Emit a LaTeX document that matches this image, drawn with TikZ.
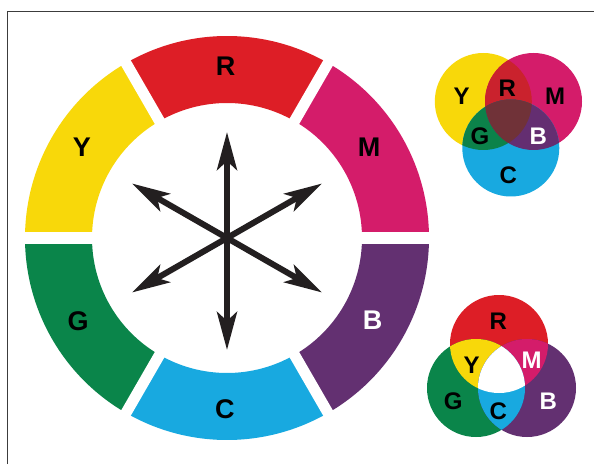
\documentclass[tikz,border=0pt]{standalone}
\usepackage{fontspec}
\setmainfont{Liberation Sans}
\usetikzlibrary{arrows.meta}
\definecolor{cR}{RGB}{221,30,38}
\definecolor{cY}{RGB}{248,216,10}
\definecolor{cM}{RGB}{212,28,106}
\definecolor{cG}{RGB}{10,133,74}
\definecolor{cB}{RGB}{99,48,113}
\definecolor{cC}{RGB}{24,169,224}
\definecolor{oR}{RGB}{202,34,45}
\definecolor{oG}{RGB}{12,130,74}
\definecolor{oB}{RGB}{100,46,113}
\definecolor{oK}{RGB}{112,50,56}
\definecolor{arrowc}{RGB}{35,31,32}
\definecolor{framec}{RGB}{60,60,60}
\begin{document}
\begin{tikzpicture}[x=1pt,y=1pt,
  lbl/.style={font=\fontsize{27}{27}\selectfont\bfseries, inner sep=0pt},
  slbl/.style={font=\fontsize{24}{24}\selectfont\bfseries, inner sep=0pt},
  arr/.style={line width=6pt, draw=arrowc,
    {Stealth[length=38pt,width=20pt,inset=9pt]}-{Stealth[length=38pt,width=20pt,inset=9pt]}},
  gapline/.style={draw=white, line width=11pt},
  framestyle/.style={draw=framec, line width=1pt}]
\useasboundingbox (0,0) rectangle (594,464);
\fill[white] (0,0) rectangle (594,464);
\draw[framestyle] (7,0) -- (7,452.3) -- (594,452.3);
% colour wheel
\begin{scope}[shift={(227,226)}]
  \foreach \a/\c in {90/cR,30/cM,-30/cB,-90/cC,-150/cG,150/cY} {
    \fill[\c] ({\a-30}:135) arc[start angle={\a-30}, end angle={\a+30}, radius=135]
      -- ({\a+30}:202) arc[start angle={\a+30}, end angle={\a-30}, radius=202] -- cycle;
  }
  \foreach \a in {0,60,...,300} \draw[gapline] (\a:128) -- (\a:209);
\end{scope}
\node[lbl] (wR) at (225.7,397.7) {R};
\node[lbl] (wY) at (82,317) {Y};
\node[lbl] (wM) at (369,316.7) {M};
\node[lbl] (wG) at (78,142.3) {G};
\node[lbl,text=white] (wB) at (372.5,143.7) {B};
\node[lbl] (wC) at (224.8,55.2) {C};
% arrows
\coordinate (aN) at (227,332);
\coordinate (aS) at (227,114);
\coordinate (aNW) at (132,280.5);
\coordinate (aSE) at (322,171.5);
\coordinate (aSW) at (132,171.5);
\coordinate (aNE) at (322,280.5);
\draw[arr] (aN) -- (aS);
\draw[arr] (aNW) -- (aSE);
\draw[arr] (aSW) -- (aNE);
% subtractive venn (top right)
\fill[cY] (483.3,362.5) circle[radius=48.5];
\fill[cM] (533.5,362.5) circle[radius=48.5];
\fill[cC] (510.8,316) circle[radius=48.5];
\begin{scope}
  \clip (483.3,362.5) circle[radius=48.5];
  \fill[oR] (533.5,362.5) circle[radius=48.5];
  \fill[oG] (510.8,316) circle[radius=48.5];
\end{scope}
\begin{scope}
  \clip (533.5,362.5) circle[radius=48.5];
  \fill[oB] (510.8,316) circle[radius=48.5];
\end{scope}
\begin{scope}
  \clip (483.3,362.5) circle[radius=48.5];
  \clip (533.5,362.5) circle[radius=48.5];
  \fill[oK] (510.8,316) circle[radius=48.5];
\end{scope}
\node[slbl] (sY) at (461.7,367.3) {Y};
\node[slbl] (sR) at (507.3,375.7) {R};
\node[slbl] (sM) at (555,367.3) {M};
\node[slbl] (sG) at (480,327.3) {G};
\node[slbl,text=white] (sB) at (538.3,327.3) {B};
\node[slbl] (sC) at (508.3,289) {C};
% additive venn (bottom right)
\fill[cR] (499,120) circle[radius=49];
\fill[cG] (476,76) circle[radius=49];
\fill[cB] (527,76) circle[radius=49];
\begin{scope}
  \clip (499,120) circle[radius=49];
  \fill[cY] (476,76) circle[radius=49];
  \fill[cM] (527,76) circle[radius=49];
\end{scope}
\begin{scope}
  \clip (476,76) circle[radius=49];
  \fill[cC] (527,76) circle[radius=49];
\end{scope}
\begin{scope}
  \clip (499,120) circle[radius=49];
  \clip (476,76) circle[radius=49];
  \fill[white] (527,76) circle[radius=49];
\end{scope}
\node[slbl] (aRl) at (498.3,142.3) {R};
\node[slbl] (aYl) at (471.7,99) {Y};
\node[slbl,text=white] (aMl) at (531.7,104) {M};
\node[slbl] (aGl) at (453.3,62.3) {G};
\node[slbl] (aCl) at (498.3,52.3) {C};
\node[slbl,text=white] (aBl) at (548.3,62.3) {B};
\end{tikzpicture}
\end{document}
